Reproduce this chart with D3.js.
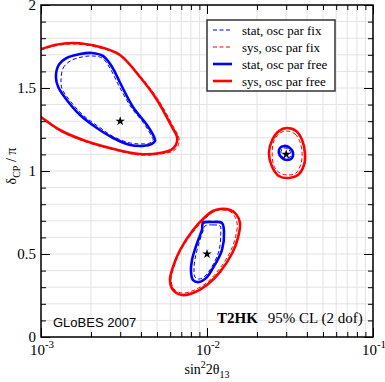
<!DOCTYPE html>
<html>
<head>
<meta charset="utf-8">
<script src="https://cdn.jsdelivr.net/npm/d3@7"></script>
<style>
  body { margin: 0; background: #fff; }
  svg { display: block; }
</style>
</head>
<body>
<svg id="chart" width="385" height="382"></svg>
<script>
// contours: [sin^2 2theta13, deltaCP/pi]
// upper left solution
const ulStatFix = [[1.32e-3,1.548],[1.36e-3,1.62],[1.5e-3,1.663],[1.77e-3,1.687],[2.03e-3,1.693],[2.33e-3,1.681],[2.6e-3,1.62],[2.91e-3,1.524],[3.48e-3,1.386],[4.23e-3,1.277],[4.66e-3,1.205],[4.73e-3,1.187],[4.53e-3,1.169],[4.06e-3,1.163],[3.44e-3,1.169],[2.75e-3,1.205],[2.24e-3,1.265],[1.79e-3,1.337],[1.5e-3,1.422],[1.34e-3,1.494]];
const ulSysFix = [[0.92e-3,1.723],[1e-3,1.729],[1.21e-3,1.753],[1.56e-3,1.765],[2.27e-3,1.741],[3.03e-3,1.693],[4.06e-3,1.56],[5.14e-3,1.422],[6.33e-3,1.259],[6.78e-3,1.199],[6.69e-3,1.151],[6.24e-3,1.12],[5.21e-3,1.102],[3.95e-3,1.096],[2.6e-3,1.133],[1.79e-3,1.181],[1.3e-3,1.241],[1e-3,1.319],[0.92e-3,1.343]];
const ulStatFree = [[1.23e-3,1.566],[1.28e-3,1.639],[1.43e-3,1.681],[1.72e-3,1.705],[2.03e-3,1.711],[2.36e-3,1.693],[2.68e-3,1.627],[3.0e-3,1.53],[3.58e-3,1.386],[4.35e-3,1.277],[4.8e-3,1.205],[4.86e-3,1.181],[4.66e-3,1.163],[4.11e-3,1.151],[3.44e-3,1.157],[2.72e-3,1.199],[2.17e-3,1.259],[1.72e-3,1.337],[1.43e-3,1.428],[1.27e-3,1.506]];
const ulSysFree = [[0.92e-3,1.729],[1e-3,1.735],[1.21e-3,1.759],[1.56e-3,1.771],[2.27e-3,1.747],[2.99e-3,1.699],[3.95e-3,1.566],[5.0e-3,1.428],[6.15e-3,1.265],[6.6e-3,1.205],[6.5e-3,1.157],[6.07e-3,1.127],[5.21e-3,1.108],[3.95e-3,1.102],[2.6e-3,1.139],[1.79e-3,1.187],[1.3e-3,1.247],[1e-3,1.325],[0.92e-3,1.349]];
// middle solution
const midStatFix = [[9.73e-3,0.669],[10.87e-3,0.675],[11.98e-3,0.669],[12.1e-3,0.62],[11.8e-3,0.518],[10.6e-3,0.416],[9.73e-3,0.367],[8.95e-3,0.349],[8.47e-3,0.361],[8.35e-3,0.404],[8.47e-3,0.47],[8.95e-3,0.566],[9.46e-3,0.639]];
const midSysFix = [[11.98e-3,0.765],[13.6e-3,0.759],[14.5e-3,0.735],[15.2e-3,0.681],[14.8e-3,0.596],[13.6e-3,0.5],[11.5e-3,0.392],[9.73e-3,0.319],[8.12e-3,0.277],[7.07e-3,0.265],[6.33e-3,0.289],[6.07e-3,0.343],[6.33e-3,0.422],[6.97e-3,0.524],[8.35e-3,0.639],[9.86e-3,0.717],[10.87e-3,0.753]];
const midStatFree = [[9.46e-3,0.687],[10.87e-3,0.693],[12.3e-3,0.687],[12.66e-3,0.633],[12.3e-3,0.524],[10.87e-3,0.416],[10.0e-3,0.361],[8.95e-3,0.331],[8.24e-3,0.343],[8.01e-3,0.392],[8.12e-3,0.464],[8.71e-3,0.566],[9.33e-3,0.645]];
const midSysFree = [[11.98e-3,0.771],[13.8e-3,0.765],[14.95e-3,0.741],[15.8e-3,0.687],[15.4e-3,0.602],[14.2e-3,0.506],[11.98e-3,0.392],[10.0e-3,0.313],[8.24e-3,0.265],[7.07e-3,0.253],[6.24e-3,0.283],[5.98e-3,0.343],[6.24e-3,0.422],[6.88e-3,0.524],[8.24e-3,0.645],[9.73e-3,0.723],[10.87e-3,0.759]];
// right solution
const rStatFix = [[29.5e-3,1.139],[31.2e-3,1.127],[32.1e-3,1.102],[31.6e-3,1.084],[30.3e-3,1.078],[28.7e-3,1.084],[27.9e-3,1.108],[28.3e-3,1.133]];
const rSysFix = [[30.3e-3,1.241],[33.9e-3,1.223],[36.3e-3,1.175],[37.4e-3,1.108],[36.8e-3,1.042],[34.4e-3,0.988],[31.2e-3,0.976],[27.5e-3,0.988],[25.3e-3,1.03],[24.7e-3,1.108],[25.3e-3,1.181],[27.5e-3,1.229]];
const rStatFree = [[29.1e-3,1.151],[31.6e-3,1.139],[33.0e-3,1.108],[32.5e-3,1.078],[30.3e-3,1.066],[28.3e-3,1.078],[27.1e-3,1.108],[27.5e-3,1.139]];
const rSysFree = [[30.3e-3,1.259],[34.4e-3,1.241],[37.4e-3,1.187],[38.9e-3,1.108],[38.4e-3,1.036],[35.3e-3,0.976],[31.2e-3,0.958],[27.1e-3,0.970],[24.7e-3,1.024],[23.6e-3,1.108],[24.7e-3,1.187],[27.1e-3,1.241]];

const truePoints = [[3e-3,1.3],[1e-2,0.5],[3e-2,1.1]];

const legendLabels = ['stat, osc par fix','sys, osc par fix','stat, osc par free','sys, osc par free'];
const xMajor = [1e-3,1e-2,1e-1];
const xMajorExp = ['-3','-2','-1'];
const yMajor = [0,0.5,1,1.5,2];
const yMajorLabels = ['0','0.5','1','1.5','2'];

const styles = {
  statFix:  { color: '#0000ff', width: 1,   dash: '4,2.5' },
  sysFix:   { color: '#ff0000', width: 1,   dash: '4,2.5' },
  statFree: { color: '#0000ff', width: 2.6, dash: null },
  sysFree:  { color: '#ff0000', width: 2.6, dash: null }
};

const contours = [
  { s: 'sysFree', pts: ulSysFree }, { s: 'statFree', pts: ulStatFree },
  { s: 'sysFree', pts: midSysFree }, { s: 'statFree', pts: midStatFree },
  { s: 'sysFree', pts: rSysFree }, { s: 'statFree', pts: rStatFree },
  { s: 'sysFix', pts: ulSysFix }, { s: 'statFix', pts: ulStatFix },
  { s: 'sysFix', pts: midSysFix }, { s: 'statFix', pts: midStatFix },
  { s: 'sysFix', pts: rSysFix }, { s: 'statFix', pts: rStatFix }
];

const serif = '"Liberation Serif", "Times New Roman", serif';
const sans = '"Liberation Sans", Arial, sans-serif';

const svg = d3.select('#chart');
const m = { left: 41, right: 373, top: 5, bottom: 337 };

const x = d3.scaleLog().domain([1e-3, 1e-1]).range([m.left, m.right]);
const y = d3.scaleLinear().domain([0, 2]).range([m.bottom, m.top]);

svg.append('defs').append('clipPath').attr('id', 'clip')
  .append('rect').attr('x', m.left).attr('y', m.top)
  .attr('width', m.right - m.left).attr('height', m.bottom - m.top);

// grid
const xMinor = x.ticks();
const yMinor = y.ticks(20);
const grid = svg.append('g').attr('stroke', '#e2e2e2').attr('stroke-width', 1);
grid.selectAll('.gx').data(xMinor).enter().append('line')
  .attr('x1', d => x(d)).attr('x2', d => x(d))
  .attr('y1', m.top).attr('y2', m.bottom);
grid.selectAll('.gy').data(yMinor).enter().append('line')
  .attr('x1', m.left).attr('x2', m.right)
  .attr('y1', d => y(d)).attr('y2', d => y(d));

// contours
const line = d3.line().x(d => x(d[0])).y(d => y(d[1]))
  .curve(d3.curveCatmullRomClosed.alpha(0.5));
svg.append('g').attr('clip-path', 'url(#clip)')
  .selectAll('path').data(contours).enter().append('path')
  .attr('d', d => line(d.pts))
  .attr('fill', 'none')
  .attr('stroke', d => styles[d.s].color)
  .attr('stroke-width', d => styles[d.s].width)
  .attr('stroke-dasharray', d => styles[d.s].dash)
  .attr('stroke-linejoin', 'round');

// true values
svg.append('g').selectAll('path').data(truePoints).enter().append('path')
  .attr('d', d3.symbol(d3.symbolStar, 28))
  .attr('transform', d => `translate(${x(d[0])},${y(d[1])})`)
  .attr('fill', '#000');

// axes: inward ticks on all four sides
function ticks(axis, pos, vals, size) {
  svg.append('g').attr('transform', pos)
    .call(axis.tickValues(vals).tickSize(size).tickFormat(''))
    .call(g => g.select('.domain').remove())
    .call(g => g.selectAll('line').attr('stroke', '#000').attr('stroke-width', 1));
}
ticks(d3.axisBottom(x), `translate(0,${m.bottom})`, xMinor, -5);
ticks(d3.axisBottom(x), `translate(0,${m.bottom})`, xMajor, -9);
ticks(d3.axisTop(x), `translate(0,${m.top})`, xMinor, -5);
ticks(d3.axisTop(x), `translate(0,${m.top})`, xMajor, -9);
ticks(d3.axisLeft(y), `translate(${m.left},0)`, yMinor, -5);
ticks(d3.axisLeft(y), `translate(${m.left},0)`, yMajor, -9);
ticks(d3.axisRight(y), `translate(${m.right},0)`, yMinor, -5);
ticks(d3.axisRight(y), `translate(${m.right},0)`, yMajor, -9);

svg.append('rect')
  .attr('x', m.left).attr('y', m.top)
  .attr('width', m.right - m.left).attr('height', m.bottom - m.top)
  .attr('fill', 'none').attr('stroke', '#000').attr('stroke-width', 1.5);

// tick labels
svg.append('g').selectAll('text').data(yMajor).enter().append('text')
  .attr('x', m.left - 5).attr('y', d => y(d)).attr('dy', '0.35em')
  .attr('text-anchor', 'end')
  .style('font-family', serif).style('font-size', '15px')
  .text((d, i) => yMajorLabels[i]);

const xl = svg.append('g').selectAll('text').data(xMajor).enter().append('text')
  .attr('x', d => x(d) + 1).attr('y', 355)
  .attr('text-anchor', 'middle')
  .style('font-family', serif).style('font-size', '15px');
xl.append('tspan').text('10');
xl.append('tspan').attr('dy', -7).style('font-size', '11px').text((d, i) => xMajorExp[i]);

// axis titles
const xt = svg.append('text').attr('x', 207).attr('y', 374)
  .attr('text-anchor', 'middle')
  .style('font-family', serif).style('font-size', '14px');
xt.append('tspan').text('sin');
xt.append('tspan').attr('dy', -6).style('font-size', '10px').text('2');
xt.append('tspan').attr('dy', 6).text('2θ');
xt.append('tspan').attr('dy', 4).style('font-size', '10px').text('13');

const yt = svg.append('text').attr('transform', 'translate(16,166) rotate(-90)')
  .attr('text-anchor', 'middle')
  .style('font-family', serif).style('font-size', '14px');
yt.append('tspan').text('δ');
yt.append('tspan').attr('dy', 4).style('font-size', '10px').text('CP');
yt.append('tspan').attr('dy', -4).text(' / π');

// annotations
svg.append('text').attr('x', 53).attr('y', 327)
  .style('font-family', sans).style('font-size', '13px').text('GLoBES 2007');
const ann = svg.append('text').attr('x', 217).attr('y', 323)
  .style('font-family', serif).style('font-size', '15px');
ann.append('tspan').style('font-weight', 'bold').text('T2HK');
ann.append('tspan').attr('dx', 10).text('95% CL (2 dof)');

// legend
const legendKeys = ['statFix', 'sysFix', 'statFree', 'sysFree'];
const lg = svg.append('g');
lg.append('rect').attr('x', 207).attr('y', 20).attr('width', 128).attr('height', 71)
  .attr('fill', '#fff').attr('stroke', '#333').attr('stroke-width', 1.5);
const rows = lg.selectAll('g').data(legendKeys).enter().append('g')
  .attr('transform', (d, i) => `translate(0,${30 + i * 17})`);
rows.append('line').attr('x1', 213).attr('x2', 232)
  .attr('stroke', d => styles[d].color)
  .attr('stroke-width', d => styles[d].width)
  .attr('stroke-dasharray', d => styles[d].dash);
rows.append('text').attr('x', 242).attr('dy', '0.35em')
  .style('font-family', serif).style('font-size', '13px')
  .text((d, i) => legendLabels[i]);
</script>
</body>
</html>
